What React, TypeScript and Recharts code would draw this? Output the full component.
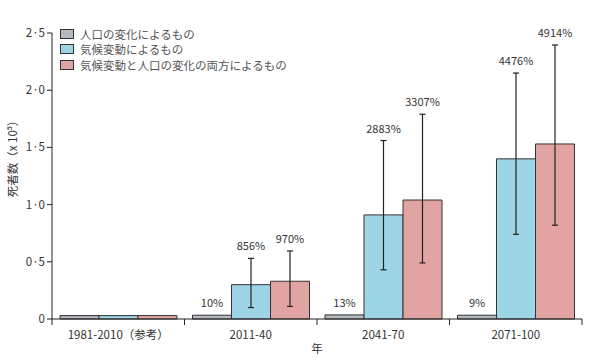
import { Bar, BarChart, ErrorBar, LabelList, XAxis, YAxis } from "recharts"

const categories = ["1981-2010（参考）", "2011-40", "2041-70", "2071-100"]

const popValues = [0.03, 0.033, 0.036, 0.033]
const climateValues = [0.03, 0.3, 0.91, 1.4]
const bothValues = [0.03, 0.33, 1.04, 1.53]

const climateLow = [null, 0.1, 0.43, 0.74]
const climateHigh = [null, 0.53, 1.56, 2.15]
const bothLow = [null, 0.11, 0.49, 0.82]
const bothHigh = [null, 0.595, 1.79, 2.395]

const popLabels = ["", "10%", "13%", "9%"]
const climateLabels = ["", "856%", "2883%", "4476%"]
const bothLabels = ["", "970%", "3307%", "4914%"]

const yTicks = [0, 0.5, 1, 1.5, 2, 2.5]

const seriesNames = ["人口の変化によるもの", "気候変動によるもの", "気候変動と人口の変化の両方によるもの"]
const colors = ["#b4babf", "#9dd4e6", "#e2a4a3"]

const FONT = "'Noto Sans CJK JP', 'Noto Sans', sans-serif"

const err = (v: number, lo: number | null, hi: number | null) =>
  lo == null || hi == null ? null : [v - lo, hi - v]

const data = categories.map((name, i) => ({
  name,
  pop: popValues[i],
  climate: climateValues[i],
  both: bothValues[i],
  climateErr: err(climateValues[i], climateLow[i], climateHigh[i]),
  bothErr: err(bothValues[i], bothLow[i], bothHigh[i]),
  popLabel: popLabels[i],
  climateLabel: climateLabels[i],
  bothLabel: bothLabels[i],
}))

const fmtY = (v: number) => (v === 0 ? "0" : v.toFixed(1).replace(".", "·"))

// label above the top of the error bar (or the bar itself when no high value)
const makeLabel = (values: number[], highs: (number | null)[]) => (props: any) => {
  const { x, y, width, height, value, index } = props
  if (!value) return null
  const v = values[index]
  const hi = highs[index]
  let top = y
  if (hi != null && v) {
    const perUnit = height / v
    top = y + height - hi * perUnit
  }
  return (
    <text
      x={x + width / 2}
      y={top - 8}
      textAnchor="middle"
      fontSize={11}
      fill="#333"
      fontFamily={FONT}
    >
      {value}
    </text>
  )
}

const XTick = (props: any) => {
  const { x, y, payload, index } = props
  const off = payload.offset ?? 0
  return (
    <g>
      <line x1={x - off} y1={y - 8} x2={x - off} y2={y - 2} stroke="#222" />
      {index === categories.length - 1 && (
        <line x1={x + off} y1={y - 8} x2={x + off} y2={y - 2} stroke="#222" />
      )}
      <text x={x} y={y + 12} textAnchor="middle" fontSize={11.5} fill="#333" fontFamily={FONT}>
        {payload.value}
      </text>
    </g>
  )
}

const LegendBox = () => (
  <div
    style={{
      position: "absolute",
      left: 60,
      top: 26,
      fontFamily: FONT,
      fontSize: 11.5,
      color: "#555",
    }}
  >
    {seriesNames.map((n, i) => (
      <div key={n} style={{ display: "flex", alignItems: "center", height: 15.5 }}>
        <span
          style={{
            display: "inline-block",
            width: 12,
            height: 8,
            background: colors[i],
            border: "1px solid #333",
            marginRight: 6,
          }}
        />
        {n}
      </div>
    ))}
  </div>
)

const YLabel = () => (
  <text
    x={17}
    y={156}
    transform="rotate(-90 17 156)"
    textAnchor="middle"
    fontSize={11.5}
    fill="#333"
    fontFamily={FONT}
  >
    死者数（x 10⁵）
  </text>
)

export default function App() {
  return (
    <div style={{ position: "absolute", left: 0, top: 0, width: 590, height: 360, background: "#fff" }}>
      <BarChart
        width={590}
        height={360}
        data={data}
        margin={{ top: 33, right: 8, bottom: 5, left: 0 }}
        barCategoryGap={8}
        barGap={0}
      >
        <XAxis
          dataKey="name"
          stroke="#222"
          tickLine={false}
          tick={<XTick />}
          height={36}
          interval={0}
          label={{ value: "年", position: "insideBottom", offset: 2, fontSize: 11.5, fill: "#333", fontFamily: FONT }}
        />
        <YAxis
          domain={[0, 2.5]}
          ticks={yTicks}
          tickFormatter={fmtY}
          stroke="#222"
          width={52}
          tickSize={5}
          tick={{ fontSize: 11.5, fill: "#333", fontFamily: FONT }}
          label={<YLabel />}
        />
        <Bar dataKey="pop" fill={colors[0]} stroke="#333" strokeWidth={1} isAnimationActive={false}>
          <LabelList dataKey="popLabel" content={makeLabel(popValues, [null, null, null, null])} />
        </Bar>
        <Bar dataKey="climate" fill={colors[1]} stroke="#333" strokeWidth={1} isAnimationActive={false}>
          <ErrorBar dataKey="climateErr" width={3} stroke="#222" strokeWidth={1.2} />
          <LabelList dataKey="climateLabel" content={makeLabel(climateValues, climateHigh)} />
        </Bar>
        <Bar dataKey="both" fill={colors[2]} stroke="#333" strokeWidth={1} isAnimationActive={false}>
          <ErrorBar dataKey="bothErr" width={3} stroke="#222" strokeWidth={1.2} />
          <LabelList dataKey="bothLabel" content={makeLabel(bothValues, bothHigh)} />
        </Bar>
      </BarChart>
      <LegendBox />
    </div>
  )
}
